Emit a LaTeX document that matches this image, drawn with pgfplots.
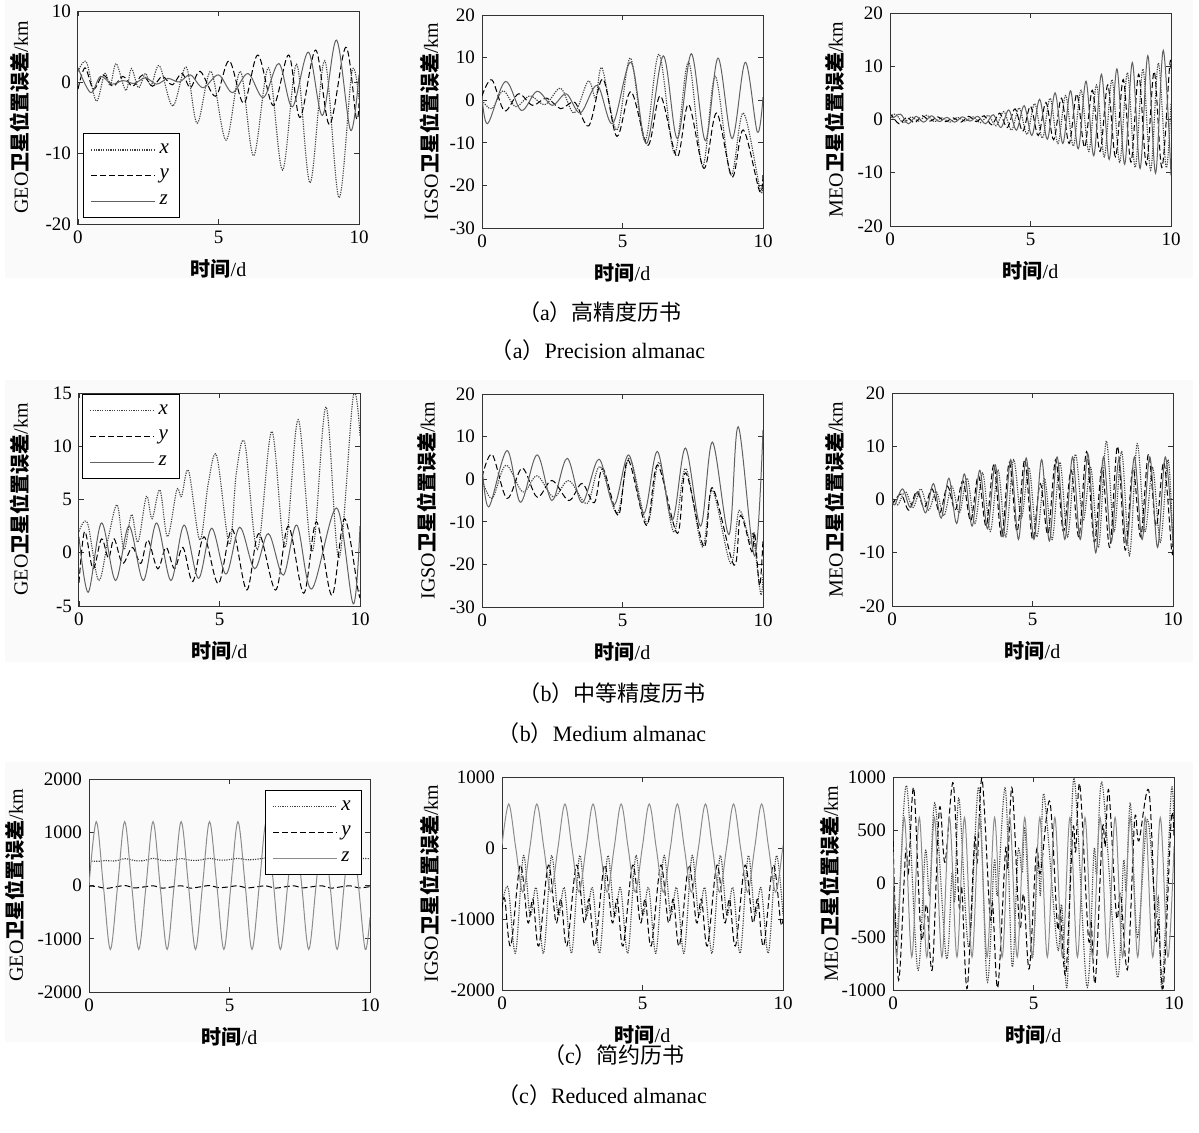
\documentclass[border=0pt]{standalone}
\usepackage{fontspec}
\usepackage{pgfplots}
\pgfplotsset{compat=1.18}
\setmainfont{Liberation Serif}
\newfontfamily\cjk{Noto Sans CJK SC}

\newcommand\yl[1]{#1{\cjk\bfseries 卫星位置误差}/km}
\newcommand\xl{{\cjk\bfseries 时间}/d}

\pgfplotsset{
  panel/.style={
    width=140.5pt, height=106.5pt, scale only axis,
    xmin=0, xmax=10, xtick={0,5,10},
    no markers, clip=true,
    axis line style={black!80, line width=0.5pt},
    tick style={black!80, line width=0.4pt},
    major tick length=2.5pt, tick align=inside,
    scaled ticks=false,
    /pgf/number format/assume math mode=true,
    /pgf/number format/1000 sep={},
    tick label style={font=\fontsize{9.5}{10}\selectfont},
    label style={font=\fontsize{10.5}{11}\selectfont},
    every axis x label/.style={at={(axis description cs:0.5,-0.21)}, anchor=center},
    every axis y label/.style={at={(axis description cs:#1,0.5)}, rotate=90, anchor=center},
    xlabel={\xl},
    legend style={draw=black, line width=0.5pt, fill=white,
      font=\fontsize{10.5}{11}\selectfont\itshape, row sep=2.5pt,
      inner xsep=3.5pt, inner ysep=3pt},
    legend cell align=left,
    legend image code/.code={\draw[##1] (0pt,0pt) -- (32pt,0pt);},
  },
  xs/.style={black!75, line width=0.55pt, dash pattern=on 0.6pt off 0.6pt, smooth, tension=0.55},
  ys/.style={black, line width=0.5pt, dash pattern=on 3pt off 1.5pt, smooth, tension=0.55},
  zs/.style={black!62, line width=0.5pt, smooth, tension=0.55},
}

\begin{document}
\begin{tikzpicture}
\useasboundingbox (0,0) rectangle (599.5pt,-566pt);
\fill[black!2] (2.5pt,0pt) rectangle (596.5pt,-139pt);
\fill[black!2] (2.5pt,-190pt) rectangle (596.5pt,-331pt);
\fill[black!2] (2.5pt,-381pt) rectangle (596.5pt,-521pt);

% ---------- row (a) ----------
\begin{axis}[panel=-0.206, at={(39pt,-112pt)}, anchor=south west,
  ymin=-20, ymax=10, ytick={-20,-10,0,10}, ylabel={\yl{GEO}},
  legend style={at={(0.018,0.028)}, anchor=south west}]
\addplot[xs] coordinates {(0,1.5) (0.3,2.8) (0.65,-2.7) (0.95,1.2) (1.15,-0.5) (1.36,2.6) (1.7,-1.2) (1.9,1.9) (2.15,-0.8) (2.4,1.2) (2.6,-0.5) (2.9,2.3) (3.37,-3.4) (3.85,2.1) (4.24,-5.8) (4.73,1.5) (5.27,-8.2) (5.78,1.5) (6.25,-10.4) (6.78,2.0) (7.28,-12.4) (7.78,2.5) (8.26,-14.2) (8.78,3.0) (9.29,-16.3) (9.75,1.5) (10,-2.5)};
\addplot[ys] coordinates {(0,-1.0) (0.25,2.0) (0.55,-1.0) (0.9,1.0) (1.25,-0.6) (1.6,0.8) (1.95,-0.6) (2.3,1.0) (2.65,-0.6) (3.0,0.8) (3.35,-0.4) (3.7,1.2) (4.0,-0.8) (4.35,1.5) (4.9,-2.0) (5.38,3.0) (5.9,-3.0) (6.4,3.8) (6.95,-3.3) (7.5,3.8) (7.9,-5.0) (8.46,4.5) (8.95,-6.0) (9.53,4.9) (9.9,-5.0) (10,-3.0)};
\addplot[zs] coordinates {(0,2.0) (0.45,-1.5) (0.8,0.8) (1.2,-0.3) (1.6,0.2) (2.0,-0.2) (2.4,0.6) (2.8,-0.3) (3.2,0.5) (3.6,0.0) (4.0,1.0) (4.45,-0.8) (5.0,1.0) (5.5,-1.5) (6.05,1.2) (6.6,-2.2) (7.15,2.6) (7.63,-3.5) (8.2,4.2) (8.7,-4.7) (9.2,5.9) (9.7,-6.8) (10,1.0)};
\legend{x,y,z}
\end{axis}

\begin{axis}[panel=-0.185, at={(241pt,-114pt)}, anchor=south west,
  ymin=-30, ymax=20, ytick={-30,-20,...,20}, ylabel={\yl{IGSO}}]
\addplot[xs] coordinates {(0,0) (0.35,-2.0) (0.75,2.2) (1.2,-1.5) (1.7,1.0) (2.25,-1.0) (2.8,2.8) (3.28,-3.0) (3.78,4.5) (4.05,0.5) (4.27,7.6) (4.8,-7.0) (5.28,9.9) (5.8,-9.5) (6.3,10.8) (6.85,-12.5) (7.35,9.0) (7.85,-15.5) (8.3,5.6) (8.85,-17.5) (9.3,-3.0) (9.9,-21) (10,-19)};
\addplot[ys] coordinates {(0,1.0) (0.35,4.8) (0.8,-2.5) (1.3,1.5) (1.8,-1.2) (2.3,0.5) (2.8,-2.0) (3.3,-0.5) (3.8,-6.0) (4.3,5.0) (4.8,-8.5) (5.3,2.0) (5.9,-10.6) (6.35,1.0) (6.94,-13.3) (7.35,-1.0) (7.9,-16.0) (8.35,-3.0) (8.9,-18.0) (9.3,-7.0) (9.88,-21.4) (10,-17)};
\addplot[zs] coordinates {(0,1.0) (0.2,-5.5) (0.83,4.4) (1.4,-2.4) (1.96,2.1) (2.5,-1.2) (3.0,1.5) (3.5,-3.0) (4.1,3.5) (4.65,-5.5) (5.3,8.9) (5.85,-10.2) (6.45,10.4) (6.95,-9.0) (7.45,10.9) (7.95,-9.5) (8.4,9.9) (8.9,-9.0) (9.37,8.9) (9.8,-7.5) (10,0.7)};
\end{axis}

\begin{axis}[panel=-0.196, at={(445pt,-113pt)}, anchor=south west,
  ymin=-20, ymax=20, ytick={-20,-10,...,20}, ylabel={\yl{MEO}}]
\addplot[xs] coordinates {(0,0.5) (0.2,1.0) (0.475,-0.6) (0.75,0.5) (1.025,-0.3) (1.3,0.8) (1.575,-0.4) (1.85,0.3) (2.125,-0.5) (2.4,0.4) (2.675,-0.3) (2.95,0.5) (3.225,-0.6) (3.5,0.8) (3.775,-1.2) (4.05,1.5) (4.325,-2.0) (4.6,2.2) (4.875,-2.8) (5.15,3.0) (5.425,-3.5) (5.7,4.0) (5.975,-4.5) (6.25,4.5) (6.525,-5.0) (6.8,5.5) (7.075,-6.0) (7.35,6.5) (7.625,-7.0) (7.9,7.5) (8.175,-8.0) (8.45,8.8) (8.725,-9.0) (9.0,9.5) (9.275,-9.5) (9.55,10.6) (9.825,-9.0) (10,3)};
\addplot[ys] coordinates {(0,0.3) (0.05,0.8) (0.325,-0.8) (0.6,0.4) (0.875,-0.6) (1.15,0.7) (1.425,-0.3) (1.7,0.5) (1.975,-0.4) (2.25,0.3) (2.525,-0.5) (2.8,0.6) (3.075,-0.4) (3.35,0.7) (3.625,-1.0) (3.9,1.2) (4.175,-1.5) (4.45,2.0) (4.725,-2.2) (5.0,2.5) (5.275,-3.0) (5.55,3.2) (5.825,-3.8) (6.1,4.0) (6.375,-4.5) (6.65,4.8) (6.925,-5.2) (7.2,5.5) (7.475,-6.0) (7.75,6.5) (8.025,-7.0) (8.3,7.5) (8.575,-8.0) (8.85,8.5) (9.125,-8.5) (9.4,9.0) (9.675,-9.0) (9.95,10.0) (10,9.5)};
\addplot[zs] coordinates {(0,0.8) (0.1,0.3) (0.375,1.0) (0.65,-0.8) (0.925,0.6) (1.2,-0.5) (1.475,0.7) (1.75,-0.4) (2.025,0.4) (2.3,-0.5) (2.575,0.5) (2.85,-0.3) (3.125,0.6) (3.4,-0.8) (3.675,0.9) (3.95,-1.5) (4.225,1.8) (4.5,-2.0) (4.775,2.6) (5.05,-3.0) (5.325,3.8) (5.6,-3.7) (5.875,5.0) (6.15,-4.5) (6.425,5.4) (6.7,-5.5) (6.975,7.2) (7.25,-6.8) (7.525,8.5) (7.8,-7.5) (8.075,9.5) (8.35,-8.4) (8.625,10.7) (8.9,-9.2) (9.175,12.0) (9.45,-10.1) (9.725,13.0) (10.0,-10.5)};
\end{axis}

% ---------- row (b) ----------
\begin{axis}[panel=-0.21, at={(39.5pt,-303pt)}, anchor=south west,
  ymin=-5, ymax=15, ytick={-5,0,...,15}, ylabel={\yl{GEO}},
  legend style={at={(0.011,0.995)}, anchor=north west}]
\addplot[xs] coordinates {(0,2.0) (0.3,2.8) (0.7,-2.6) (1.05,1.5) (1.36,4.5) (1.6,0.3) (1.87,3.6) (2.1,1.0) (2.4,5.3) (2.6,3.2) (2.88,5.9) (3.15,1.5) (3.48,5.9) (3.65,5.3) (3.9,7.7) (4.3,1.2) (4.6,6.5) (4.9,9.1) (5.35,0.8) (5.6,7.5) (5.9,10.3) (6.35,0.3) (6.86,11.4) (7.33,0.5) (7.8,12.5) (8.3,0.1) (8.79,13.7) (9.25,-0.5) (9.76,14.7) (10,11)};
\addplot[ys] coordinates {(0,-2.8) (0.2,2.0) (0.5,-1.5) (0.8,1.3) (1.05,-0.5) (1.25,1.3) (1.55,-1.0) (1.9,0.5) (2.2,-1.0) (2.45,1.2) (2.8,-1.5) (3.1,0.5) (3.4,-1.5) (3.7,0.5) (4.05,-2.7) (4.45,1.5) (4.96,-2.9) (5.45,2.2) (5.97,-3.5) (6.4,1.8) (7.0,-3.5) (7.45,2.5) (8.0,-3.8) (8.45,2.9) (9.0,-4.0) (9.45,3.2) (9.95,-3.8) (10,-3.5)};
\addplot[zs] coordinates {(0,1.5) (0.33,-3.7) (0.8,2.8) (1.3,-2.6) (1.78,2.5) (2.29,-2.6) (2.76,2.8) (3.27,-2.6) (3.74,2.6) (4.25,-2.4) (4.72,2.3) (5.23,-2.0) (5.72,2.4) (6.25,-1.5) (6.74,1.8) (7.27,-2.1) (7.75,2.6) (8.28,-3.4) (9.17,4.2) (9.76,-4.8) (10,2.5)};
\legend{x,y,z}
\end{axis}

\begin{axis}[panel=-0.196, at={(241pt,-303.5pt)}, anchor=south west,
  ymin=-30, ymax=20, ytick={-30,-20,...,20}, ylabel={\yl{IGSO}}]
\addplot[xs] coordinates {(0,0.0) (0.36,-4.5) (0.85,3.3) (1.45,-3.0) (1.96,0.8) (2.55,-4.2) (3.09,-0.3) (3.74,-5.7) (4.2,3.0) (4.81,-8.0) (5.25,5.0) (5.88,-10.4) (6.3,4.0) (6.83,-12.4) (7.25,2.5) (7.84,-15.9) (8.2,-2.6) (8.85,-19.8) (9.15,-7.3) (9.55,-15) (9.65,-13) (9.92,-27) (10,-22)};
\addplot[ys] coordinates {(0,0.5) (0.36,5.8) (0.89,-4.5) (1.43,2.6) (1.96,-4.2) (2.49,-0.3) (3.09,-5.0) (3.56,-1.0) (4.0,-5.5) (4.3,2.5) (4.85,-8.5) (5.2,4.5) (5.85,-10.8) (6.25,3.3) (6.95,-12.7) (7.25,1.5) (7.9,-15.9) (8.2,-2.0) (8.97,-20.2) (9.2,-8.5) (9.6,-17) (9.7,-12.5) (9.88,-25) (10,-14)};
\addplot[zs] coordinates {(0,3.5) (0.24,-6.5) (0.89,6.7) (1.37,-5.4) (1.96,5.7) (2.49,-5.0) (3.03,4.9) (3.56,-5.5) (4.16,4.7) (4.7,-6.0) (5.22,5.7) (5.76,-8.0) (6.24,6.5) (6.77,-9.6) (7.24,7.3) (7.78,-11) (8.2,8.7) (8.79,-13) (9.12,12.3) (9.7,-18) (10,11.5)};
\end{axis}

\begin{axis}[panel=-0.203, at={(446pt,-303pt)}, anchor=south west,
  ymin=-20, ymax=20, ytick={-20,-10,...,20}, ylabel={\yl{MEO}}]
\addplot[xs] coordinates {(0,0.5) (0.2,-1.0) (0.475,1.5) (0.75,-1.5) (1.025,2.0) (1.3,-2.0) (1.575,1.5) (1.85,-3.0) (2.125,2.5) (2.4,-2.5) (2.675,4.0) (2.95,-4.5) (3.225,5.0) (3.5,-6.0) (3.775,5.5) (4.05,-7.0) (4.325,7.5) (4.6,-3.5) (4.875,6.0) (5.15,-7.0) (5.425,4.0) (5.7,-7.5) (5.975,7.0) (6.25,-7.0) (6.525,8.5) (6.8,-4.0) (7.075,6.0) (7.35,-9.0) (7.625,11.0) (7.9,-6.0) (8.175,9.0) (8.45,-10.5) (8.725,10.5) (9.0,-6.0) (9.275,6.0) (9.55,-8.0) (9.825,7.5) (10,-9)};
\addplot[ys] coordinates {(0,0) (0.05,-0.5) (0.325,1.0) (0.6,-2.0) (0.875,1.5) (1.15,-1.5) (1.425,2.0) (1.7,-2.5) (1.975,2.5) (2.25,-2.0) (2.525,3.5) (2.8,-4.0) (3.075,4.5) (3.35,-5.0) (3.625,6.5) (3.9,-7.0) (4.175,7.0) (4.45,-6.0) (4.725,7.5) (5.0,-7.5) (5.275,3.0) (5.55,-6.5) (5.825,7.5) (6.1,-6.0) (6.375,5.5) (6.65,-7.0) (6.925,9.0) (7.2,-8.0) (7.475,6.0) (7.75,-9.0) (8.025,10.0) (8.3,-9.5) (8.575,6.0) (8.85,-7.0) (9.125,8.5) (9.4,-5.0) (9.675,7.0) (9.95,-9.5) (10,-8)};
\addplot[zs] coordinates {(0,0) (0.1,-1.0) (0.375,2.0) (0.65,-1.5) (0.925,1.5) (1.2,-2.5) (1.475,3.0) (1.75,-3.5) (2.025,4.0) (2.3,-4.5) (2.575,4.8) (2.85,-5.0) (3.125,5.5) (3.4,-5.5) (3.675,6.5) (3.95,-7.0) (4.225,7.5) (4.5,-7.5) (4.775,7.8) (5.05,-7.5) (5.325,7.5) (5.6,-7.8) (5.875,8.0) (6.15,-7.5) (6.425,8.0) (6.7,-7.5) (6.975,8.5) (7.25,-10.0) (7.525,8.0) (7.8,-8.0) (8.075,7.5) (8.35,-8.5) (8.625,8.0) (8.9,-7.5) (9.175,8.0) (9.45,-9.0) (9.725,8.0) (10.0,-8.0)};
\end{axis}

% ---------- row (c) ----------
\begin{axis}[panel=-0.263, at={(44.5pt,-496pt)}, anchor=south west,
  ymin=-2000, ymax=2000, ytick={-2000,-1000,...,2000}, ylabel={\yl{GEO}},
  legend style={at={(0.972,0.948)}, anchor=north east}]
\addplot[xs] coordinates {(0,460) (0.35,455) (0.6,470) (0.9,460) (1.3,505) (1.6,470) (1.9,465) (2.3,510) (2.6,470) (2.9,470) (3.3,505) (3.6,475) (3.9,475) (4.3,510) (4.6,480) (4.9,480) (5.3,510) (5.6,485) (5.9,490) (6.3,515) (6.6,495) (7.0,495) (7.5,510) (8,500) (8.5,510) (9,505) (9.5,510) (10,505)};
\addplot[ys] coordinates {(0,-10) (0.3,-20) (0.6,-55) (0.9,-30) (1.3,0) (1.6,-45) (1.9,-30) (2.3,-5) (2.6,-50) (2.9,-30) (3.3,-5) (3.6,-50) (3.9,-30) (4.3,0) (4.6,-40) (4.9,-30) (5.3,-5) (5.6,-45) (5.9,-30) (6.3,-5) (6.6,-50) (6.9,-30) (7.3,-5) (7.6,-45) (7.9,-25) (8.3,-5) (8.6,-50) (8.9,-30) (9.3,-5) (9.6,-45) (10,-20)};
\addplot[zs, black!45] coordinates {(0,0) (0.26,1200) (0.51,0) (0.76,-1200) (1.02,0) (1.27,1200) (1.52,0) (1.77,-1200) (2.03,0) (2.28,1200) (2.53,0) (2.78,-1200) (3.03,0) (3.28,1200) (3.54,0) (3.79,-1200) (4.04,0) (4.29,1200) (4.55,0) (4.8,-1200) (5.05,0) (5.3,1200) (5.56,0) (5.8,-1200) (6.06,0) (6.31,1200) (6.57,0) (6.81,-1200) (7.07,0) (7.32,1200) (7.57,0) (7.82,-1200) (8.08,0) (8.32,1200) (8.58,0) (8.83,-1200) (9.08,0) (9.33,1200) (9.59,0) (9.83,-1200) (10,-600)};
\legend{x,y,z}
\end{axis}

\begin{axis}[panel=-0.256, at={(251pt,-495pt)}, anchor=south west,
  ymin=-2000, ymax=1000, ytick={-2000,-1000,...,1000}, ylabel={\yl{IGSO}}]
\addplot[xs] coordinates {(0,-800) (0.22,-560) (0.48,-1480) (0.76,-110) (1.0,-950) (1.22,-560) (1.48,-1480) (1.76,-110) (2.0,-950) (2.22,-560) (2.48,-1480) (2.76,-110) (3.0,-950) (3.22,-560) (3.48,-1480) (3.76,-110) (4.0,-950) (4.22,-560) (4.48,-1480) (4.76,-110) (5.0,-950) (5.22,-560) (5.48,-1480) (5.76,-110) (6.0,-950) (6.22,-560) (6.48,-1480) (6.76,-110) (7.0,-950) (7.22,-560) (7.48,-1480) (7.76,-110) (8.0,-950) (8.22,-560) (8.48,-1480) (8.76,-110) (9.0,-950) (9.22,-560) (9.48,-1480) (9.76,-110) (10,-950)};
\addplot[ys] coordinates {(0,-850) (0.1,-720) (0.31,-1380) (0.65,-240) (0.92,-1050) (1.1,-720) (1.31,-1380) (1.65,-240) (1.92,-1050) (2.1,-720) (2.31,-1380) (2.65,-240) (2.92,-1050) (3.1,-720) (3.31,-1380) (3.65,-240) (3.92,-1050) (4.1,-720) (4.31,-1380) (4.65,-240) (4.92,-1050) (5.1,-720) (5.31,-1380) (5.65,-240) (5.92,-1050) (6.1,-720) (6.31,-1380) (6.65,-240) (6.92,-1050) (7.1,-720) (7.31,-1380) (7.65,-240) (7.92,-1050) (8.1,-720) (8.31,-1380) (8.65,-240) (8.92,-1050) (9.1,-720) (9.31,-1380) (9.65,-240) (9.92,-1050) (10,-1000)};
\addplot[zs, black!45] coordinates {(0,40) (0.24,620) (0.49,0) (0.74,-620) (0.99,0) (1.24,620) (1.49,0) (1.74,-620) (1.99,0) (2.24,620) (2.49,0) (2.74,-620) (2.99,0) (3.24,620) (3.49,0) (3.74,-620) (3.99,0) (4.24,620) (4.49,0) (4.74,-620) (4.99,0) (5.24,620) (5.49,0) (5.74,-620) (5.99,0) (6.24,620) (6.49,0) (6.74,-620) (6.99,0) (7.24,620) (7.49,0) (7.74,-620) (7.99,0) (8.24,620) (8.49,0) (8.74,-620) (8.99,0) (9.24,620) (9.49,0) (9.74,-620) (9.99,0) (10,20)};
\end{axis}

\begin{axis}[panel=-0.224, at={(446.5pt,-495pt)}, anchor=south west,
  ymin=-1000, ymax=1000, ytick={-1000,-500,...,1000}, ylabel={\yl{MEO}}]
\addplot[xs] coordinates {(0,200) (0.15,-450) (0.48,920) (0.88,-810) (1.15,300) (1.3,-100) (1.5,750) (1.9,-700) (2.1,100) (2.2,-150) (2.35,800) (2.7,-600) (3.05,905) (3.35,-920) (3.6,200) (3.72,-100) (4.0,890) (4.24,-780) (4.45,300) (4.6,100) (4.7,500) (4.95,-700) (5.15,200) (5.25,-100) (5.37,840) (5.85,-600) (6.0,-200) (6.2,-955) (6.44,990) (6.9,-970) (7.15,300) (7.25,100) (7.45,935) (7.98,-875) (8.2,200) (8.3,-50) (8.45,750) (8.7,-500) (9.05,600) (9.35,-300) (9.45,-150) (9.58,-970) (9.9,857) (10,500)};
\addplot[ys] coordinates {(0,400) (0.2,-907) (0.45,300) (0.55,100) (0.74,895) (1.0,-500) (1.2,-200) (1.4,-800) (1.65,700) (1.85,200) (2.14,945) (2.35,-200) (2.45,-50) (2.64,-985) (2.9,400) (3.0,200) (3.17,983) (3.45,-300) (3.55,-200) (3.73,-976) (4.0,300) (4.08,150) (4.24,895) (4.5,-400) (4.65,-100) (4.85,-800) (5.1,300) (5.25,100) (5.58,770) (5.85,-400) (5.95,-250) (6.15,-850) (6.4,500) (6.5,300) (6.65,926) (6.95,-500) (7.05,-350) (7.2,-923) (7.45,500) (7.55,350) (7.68,872) (7.95,-300) (8.1,-100) (8.35,-800) (8.6,600) (8.75,400) (9.11,863) (9.35,-500) (9.45,-350) (9.62,-970) (9.9,600) (10,450)};
\addplot[zs, black!45] coordinates {(0,300) (0.132,-690) (0.4,620) (0.668,-690) (0.936,620) (1.204,-690) (1.472,620) (1.74,-690) (2.008,620) (2.276,-690) (2.544,620) (2.812,-690) (3.08,620) (3.348,-690) (3.616,620) (3.884,-690) (4.152,620) (4.42,-690) (4.688,620) (4.956,-690) (5.224,620) (5.492,-690) (5.76,620) (6.028,-690) (6.296,620) (6.564,-690) (6.832,620) (7.1,-690) (7.368,620) (7.636,-690) (7.904,620) (8.172,-690) (8.44,620) (8.708,-690) (8.976,620) (9.244,-690) (9.512,620) (9.78,-690) (10,350)};
\end{axis}

% ---------- captions ----------
\node[font=\fontsize{11}{12}\selectfont] at (300pt,-156pt) {{\cjk （}a{\cjk ）高精度历书}};
\node[font=\fontsize{11}{12}\selectfont] at (299pt,-175pt) {{\cjk （}a{\cjk ）}Precision almanac};
\node[font=\fontsize{11}{12}\selectfont] at (306pt,-346.5pt) {{\cjk （}b{\cjk ）中等精度历书}};
\node[font=\fontsize{11}{12}\selectfont] at (301pt,-366.5pt) {{\cjk （}b{\cjk ）}Medium almanac};
\node[font=\fontsize{11}{12}\selectfont] at (307pt,-527.5pt) {{\cjk （}c{\cjk ）简约历书}};
\node[font=\fontsize{11}{12}\selectfont] at (301pt,-547.5pt) {{\cjk （}c{\cjk ）}Reduced almanac};
\end{tikzpicture}
\end{document}
